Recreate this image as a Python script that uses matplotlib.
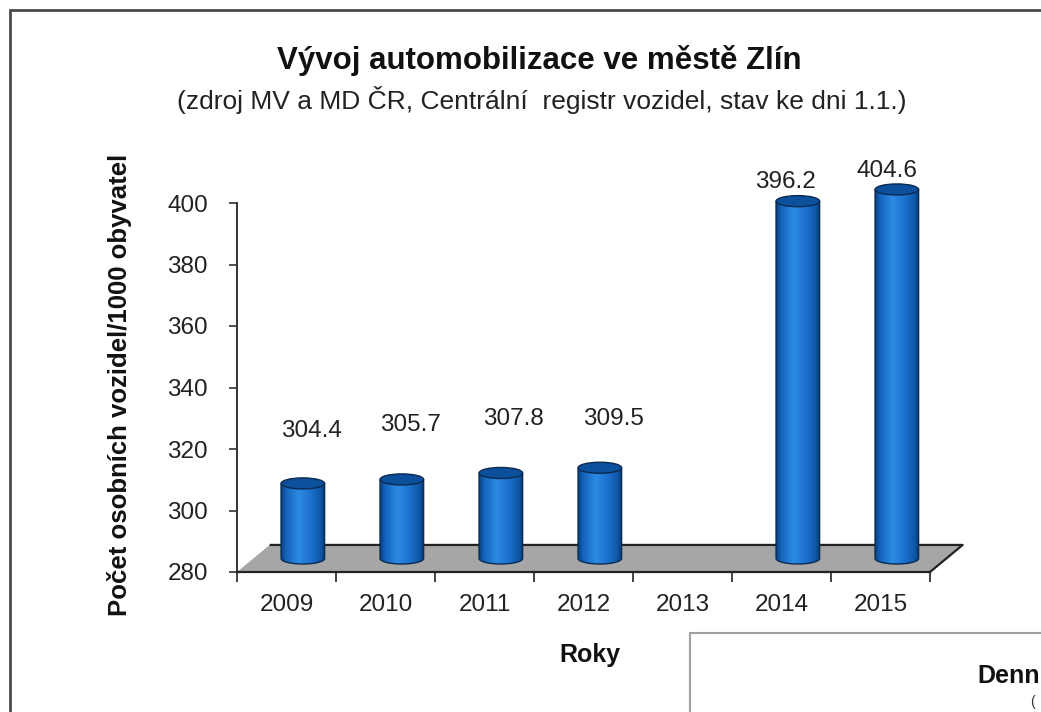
import matplotlib.pyplot as plt
import numpy as np
from matplotlib.patches import Polygon, Ellipse, PathPatch, Rectangle
from matplotlib.path import Path
from matplotlib.colors import LinearSegmentedColormap

# data
years = ['2009', '2010', '2011', '2012', '2013', '2014', '2015']
values = [304.4, 305.7, 307.8, 309.5, np.nan, 396.2, 404.6]
yticks = [280, 300, 320, 340, 360, 380, 400]

title = 'Vývoj automobilizace ve městě Zlín'
subtitle = '(zdroj MV a MD ČR, Centrální  registr vozidel, stav ke dni 1.1.)'
ylabel = 'Počet osobních vozidel/1000 obyvatel'
xlabel = 'Roky'

# label offsets from the cylinder top (points), as Excel placed them
label_lift = [38, 39, 39, 35, 0, 13.5, 13]
label_shift = [6, 6, 9, 10, 0, -9, -7]

plt.rcParams['font.family'] = ['Liberation Sans', 'DejaVu Sans']

W, H = 1041, 712
fig = plt.figure(figsize=(W / 100, H / 100), dpi=100)

# outer frame of the chart and the box of the next chart (cut off)
fig.patches.append(Rectangle((10 / W, -0.1), 1.2, (H - 10) / H + 0.1, transform=fig.transFigure,
                             facecolor='none', edgecolor='#4a4a4a', lw=2))
fig.patches.append(Rectangle((690 / W, -0.1), 1.0, (H - 633) / H + 0.1, transform=fig.transFigure,
                             facecolor='white', edgecolor='#a0a0a0', lw=1.5))
fig.text(977 / W, 1 - 676 / H, 'Denn', fontsize=18, fontweight='bold',
         ha='left', va='center', color='#111111')
fig.text(1030 / W, 1 - 702 / H, '(', fontsize=10, ha='left', va='center', color='#333333')

ax = fig.add_axes([237 / W, (H - 572) / H, (930 - 237) / W, (572 - 203) / H])
ymin, ymax = yticks[0], yticks[-1]

# 3D depth in data units
DX = 0.33
DY = 8.8

# floor
fx = [-0.5, 6.5, 6.5 + DX, -0.5 + DX]
fy = [ymin, ymin, ymin + DY, ymin + DY]
ax.add_patch(Polygon(list(zip(fx, fy)), closed=True, facecolor='#a6a6a6', edgecolor='none',
                     clip_on=False, zorder=1))
ax.plot([fx[3], fx[2], fx[1]], [fy[3], fy[2], fy[1]], color='#222222', lw=1.6,
        clip_on=False, zorder=1.5, solid_capstyle='butt')

grad = np.linspace(0, 1, 256).reshape(1, -1)
cmap = LinearSegmentedColormap.from_list('cyl', [(0, '#0a3f7e'), (0.12, '#1464bc'), (0.4, '#2d8ae2'),
                                                  (0.7, '#1b6fca'), (0.9, '#0f57a8'), (1, '#083a75')])
bw = 0.44
eh = 3.6

for i, v in enumerate(values):
    if np.isnan(v):
        continue
    xc = i + DX / 2
    y0 = ymin + DY / 2
    y1 = min(v, ymax) + DY / 2
    t = np.linspace(np.pi, 2 * np.pi, 50)
    verts = [(xc - bw / 2, y1)] + list(zip(xc + bw / 2 * np.cos(t), y0 + eh / 2 * np.sin(t))) \
        + [(xc + bw / 2, y1), (xc - bw / 2, y1)]
    body = PathPatch(Path(verts, closed=False), facecolor='none', edgecolor='#0a2b52', lw=1.0,
                     zorder=3, clip_on=False)
    ax.add_patch(body)
    img = ax.imshow(grad, extent=[xc - bw / 2, xc + bw / 2, y0 - eh, y1], aspect='auto',
                    cmap=cmap, zorder=2.9, interpolation='bilinear')
    img.set_clip_box(fig.bbox)
    img.set_clip_path(body)
    ax.add_patch(Ellipse((xc, y1), bw, eh, facecolor='#0c4f9a', edgecolor='#0a2b52', lw=1.0,
                         zorder=4, clip_on=False))
    ax.annotate(f'{v:.1f}', (xc, y1), xytext=(label_shift[i], label_lift[i]),
                textcoords='offset points', ha='center', va='center', fontsize=17.5,
                color='#222222', annotation_clip=False)

ax.set_xlim(-0.5, 6.5)
ax.set_ylim(ymin, ymax)

for s in ['top', 'right']:
    ax.spines[s].set_visible(False)
ax.spines['left'].set_color('#333333')
ax.spines['left'].set_linewidth(1.4)
ax.spines['bottom'].set_color('#222222')
ax.spines['bottom'].set_linewidth(1.6)

ax.set_yticks(yticks)
ax.set_yticklabels([str(t) for t in yticks])
ax.tick_params(axis='y', direction='out', length=6, width=1.2, color='#333333', pad=15,
               labelsize=17.5, labelcolor='#222222')
ax.set_xticks(range(len(years)))
ax.set_xticklabels(years)
ax.set_xticks(np.arange(-0.5, len(years)), minor=True)
ax.tick_params(axis='x', which='major', length=0, pad=16, labelsize=17.5, labelcolor='#222222')
ax.tick_params(axis='x', which='minor', direction='out', length=7, width=1.2, color='#222222')
ax.patch.set_visible(False)

fig.text(539 / W, 1 - 60 / H, title, fontsize=22.5, fontweight='bold', ha='center', va='center',
         color='#111111')
fig.text(542 / W, 1 - 100 / H, subtitle, fontsize=19, ha='center', va='center', color='#222222')
fig.text(120 / W, 1 - 385 / H, ylabel, fontsize=18.5, fontweight='bold', rotation=90,
         ha='center', va='center', color='#111111')
fig.text(590 / W, 1 - 655 / H, xlabel, fontsize=18, fontweight='bold', ha='center', va='center',
         color='#111111')

fig.savefig('out.png', dpi=100)
